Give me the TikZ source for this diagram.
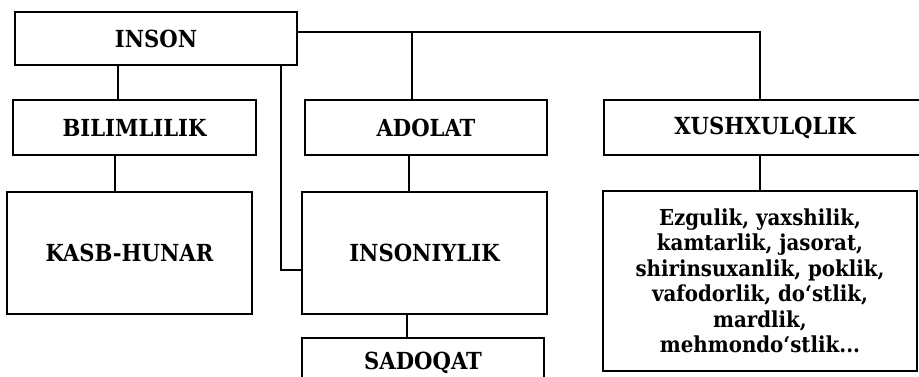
\documentclass[tikz,border=0pt]{standalone}
\usepackage{fontspec}
\setmainfont{DejaVu Serif Condensed}
\begin{document}
\begin{tikzpicture}[x=1pt,y=-1pt,
  box/.style={draw, line width=2.4pt, inner sep=0pt, align=center,
              font=\fontsize{23.5}{26}\selectfont\bfseries},
  conn/.style={line width=2.4pt}]
\useasboundingbox (0,0) rectangle (919,376);
\fill[white] (0,0) rectangle (919,376);
\clip (0,0) rectangle (919,376);
% boxes
\node[box, minimum width=282pt, minimum height=53pt]  (inson)   at (156,38.5) {INSON};
\node[box, minimum width=243pt, minimum height=55pt]  (bilim)   at (134.5,127.5) {BILIMLILIK};
\node[box, minimum width=242pt, minimum height=55pt]  (adol)    at (426,127.5) {ADOLAT};
\node[box, minimum width=322pt, minimum height=55pt]  (xush)    at (765,127.5) {XUSHXULQLIK};
\node[box, minimum width=245pt, minimum height=122pt] (kasb)    at (129.5,253) {KASB-HUNAR};
\node[box, minimum width=245pt, minimum height=122pt] (insoniy) at (424.5,253) {INSONIYLIK};
\node[box, minimum width=242pt, minimum height=50pt]  (sadoq)   at (423,363) {SADOQAT};
\node[box, minimum width=314pt, minimum height=180pt,
      font=\fontsize{22}{25.5}\selectfont\bfseries] (ezgu) at (760,281)
  {Ezgulik, yaxshilik,\\kamtarlik, jasorat,\\shirinsuxanlik, poklik,\\vafodorlik, do‘stlik,\\mardlik,\\mehmondo‘stlik...};
% helper coordinates
\coordinate (c32) at (0,32);
\coordinate (c760) at (760,0);
\coordinate (j1) at (412,32);
\coordinate (j2) at (281,270);
\coordinate (a118) at (118,0);
\coordinate (a115) at (115,0);
\coordinate (a409) at (409,0);
\coordinate (a407) at (407,0);
% connectors
\draw[conn] (inson.east |- c32) -| (xush.north -| c760);
\draw[conn] (j1) -- (adol.north -| j1);
\draw[conn] (inson.south -| j2) |- (insoniy.west |- j2);
\draw[conn] (inson.south -| a118) -- (bilim.north -| a118);
\draw[conn] (bilim.south -| a115) -- (kasb.north -| a115);
\draw[conn] (adol.south -| a409) -- (insoniy.north -| a409);
\draw[conn] (insoniy.south -| a407) -- (sadoq.north -| a407);
\draw[conn] (xush.south -| c760) -- (ezgu.north -| c760);
\end{tikzpicture}
\end{document}
